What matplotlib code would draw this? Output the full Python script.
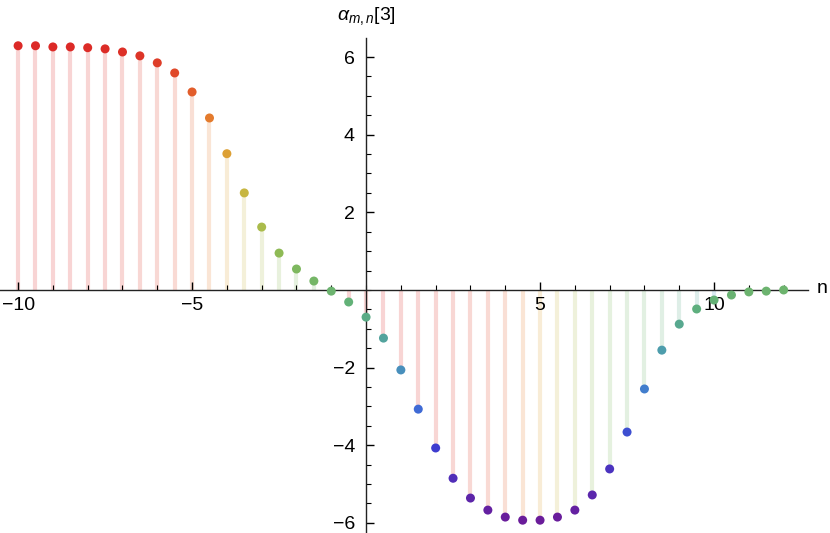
import numpy as np
import matplotlib
matplotlib.use("Agg")
import matplotlib.pyplot as plt
from matplotlib.colors import LinearSegmentedColormap
from matplotlib.ticker import MultipleLocator, FixedLocator

plt.rcParams['font.family'] = ['Liberation Sans', 'DejaVu Sans']
plt.rcParams['mathtext.fontset'] = 'custom'
plt.rcParams['mathtext.it'] = 'Liberation Sans:italic'
plt.rcParams['mathtext.rm'] = 'Liberation Sans'

# n = -10 ... 12 in steps of 1/2
n = np.arange(-10, 12.01, 0.5)
alpha = np.array([6.29, 6.29, 6.26, 6.26, 6.24, 6.21, 6.13, 6.03, 5.85, 5.59,
                  5.10, 4.43, 3.51, 2.50, 1.62, 0.95, 0.54, 0.23, -0.03, -0.31,
                  -0.70, -1.24, -2.06, -3.07, -4.07, -4.85, -5.36, -5.67, -5.85, -5.93,
                  -5.93, -5.85, -5.67, -5.28, -4.61, -3.66, -2.55, -1.55, -0.88, -0.49,
                  -0.26, -0.13, -0.05, -0.03, 0.0])

# Mathematica-like "Rainbow" gradient, low -> high
rainbow = LinearSegmentedColormap.from_list("rainbow_m", [
    (0.00, "#6a1c9a"), (0.15, "#3e3ccf"), (0.25, "#3f74d6"), (0.35, "#4c9cb0"),
    (0.45, "#5fb07a"), (0.55, "#86ba58"), (0.65, "#b9bb45"), (0.72, "#d2b23e"),
    (0.80, "#e3962f"), (0.88, "#e46b2c"), (1.00, "#dc2a27")])

lo, hi = alpha.min(), alpha.max()
pt_colors = rainbow((alpha - lo) / (hi - lo))

# the filling colours in the original are shifted for the negative part
stem_src = np.where(alpha < 0, np.roll(alpha, 18), alpha)
stem_base = rainbow((stem_src - lo) / (hi - lo))[:, :3]
stem_colors = 1 - 0.2 * (1 - stem_base)

fig = plt.figure(figsize=(8.3, 5.33), dpi=100)
ax = fig.add_axes([0.0, 0.0, 808 / 830, (533 - 38) / 533])

ax.vlines(n, 0, alpha, colors=stem_colors, linewidth=3, zorder=1)
ax.scatter(n, alpha, s=42, c=pt_colors, edgecolors='none', zorder=3)

ax.set_xlim(-10.52, 12.70)
ax.set_ylim(-6.26, 6.49)

for s in ['top', 'right']:
    ax.spines[s].set_visible(False)
ax.spines['left'].set_position(('data', 0))
ax.spines['bottom'].set_position(('data', 0))
for s in ['left', 'bottom']:
    ax.spines[s].set_linewidth(1.0)
    ax.spines[s].set_color('#222222')

ax.xaxis.set_major_locator(FixedLocator([-10, -5, 5, 10]))
ax.xaxis.set_minor_locator(MultipleLocator(1))
ax.yaxis.set_major_locator(FixedLocator([-6, -4, -2, 2, 4, 6]))
ax.yaxis.set_minor_locator(MultipleLocator(0.5))

ax.tick_params(axis='x', which='major', direction='in', length=6, width=1,
               pad=5, labelsize=14)
ax.tick_params(axis='x', which='minor', direction='in', length=3.5, width=0.8)
ax.tick_params(axis='y', which='major', direction='in', length=6, width=1,
               pad=8, labelsize=14)
ax.tick_params(axis='y', which='minor', direction='in', length=3.5, width=0.8)

ax.annotate(r'$\alpha_{m,n}$[3]', xy=(0, 1), xycoords=('data', 'axes fraction'),
            xytext=(0, 16), textcoords='offset points', ha='center', va='center',
            fontsize=14, annotation_clip=False)
ax.annotate('n', xy=(1, 0), xycoords=('axes fraction', 'data'),
            xytext=(10, 1), textcoords='offset points', ha='center', va='center',
            fontsize=14, annotation_clip=False)

fig.savefig('out.png', dpi=100)
